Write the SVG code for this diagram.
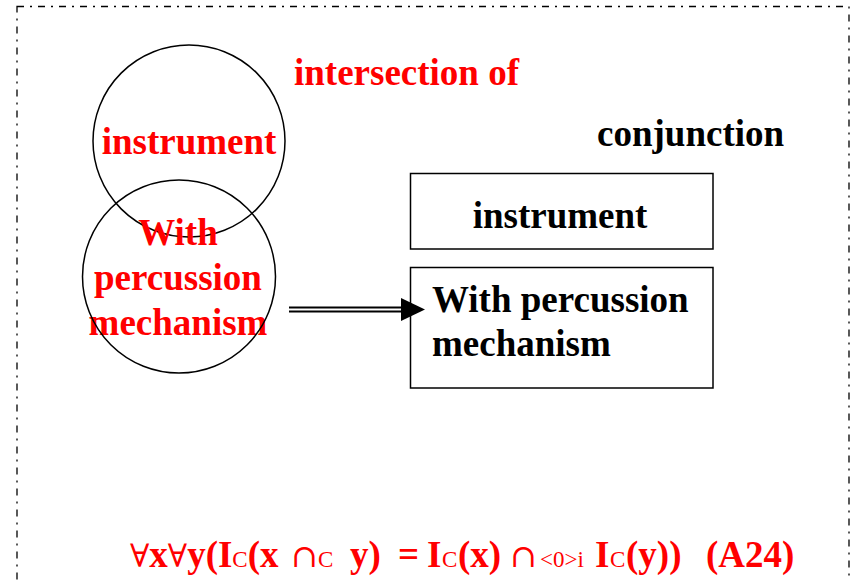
<svg xmlns="http://www.w3.org/2000/svg" width="853" height="580" viewBox="0 0 853 580">
<defs>
<style>
.t{font-family:"Liberation Serif","Times New Roman",serif;font-weight:bold;font-size:37px}
.red{fill:#ff0000}
.blk{fill:#000}
.sub{font-weight:normal;font-size:23px}
.sym{font-family:"DejaVu Serif","Liberation Serif",serif;font-weight:normal;font-size:32px}
.shape{fill:none;stroke:#000;stroke-width:1.5}
</style>
</defs>
<rect x="0" y="0" width="853" height="580" fill="#fff"/>
<rect id="frame" x="17" y="6.5" width="832" height="620" fill="none" stroke="#000" stroke-width="1.3" stroke-dasharray="7 6 2 6"/>

<g id="label-intersection"><text class="t red" x="294" y="85">intersection of</text></g>
<g id="label-conjunction"><text class="t blk" x="597" y="146">conjunction</text></g>

<g id="circle-instrument">
<text class="t red" x="189" y="154" text-anchor="middle">instrument</text>
<circle class="shape" cx="189" cy="141" r="96"/>
</g>
<g id="circle-percussion">
<text class="t red" x="178" y="245" text-anchor="middle">With</text>
<text class="t red" x="178" y="290" text-anchor="middle">percussion</text>
<text class="t red" x="178" y="335" text-anchor="middle">mechanism</text>
<circle class="shape" cx="179" cy="276.5" r="96.5"/>
</g>

<g id="box-instrument">
<rect class="shape" x="410.5" y="173.5" width="302.5" height="75.5"/>
<text class="t blk" x="560" y="228" text-anchor="middle">instrument</text>
</g>
<g id="box-percussion">
<rect class="shape" x="410.5" y="267.5" width="302.5" height="120.5"/>
<text class="t blk" x="432" y="312">With percussion</text>
<text class="t blk" x="432" y="356">mechanism</text>
</g>

<g id="connectors">
<line x1="289" y1="307.5" x2="403" y2="307.5" stroke="#000" stroke-width="1.8"/>
<line x1="289" y1="311.5" x2="403" y2="311.5" stroke="#000" stroke-width="1.8"/>
<path d="M401,298 L425,309.5 L401,321 Z" fill="#000"/>
</g>

<g id="formula">
<text class="t red" x="130" y="567"><tspan class="sym">∀</tspan>x<tspan class="sym">∀</tspan>y(I<tspan class="sub">C</tspan>(x<tspan x="291" class="sym">∩</tspan><tspan x="318" class="sub">C</tspan><tspan x="350">y)</tspan><tspan x="398">=</tspan><tspan x="427">I</tspan><tspan x="442" class="sub">C</tspan><tspan x="458">(x)</tspan><tspan x="510" class="sym">∩</tspan><tspan x="540" class="sub">&lt;0&gt;i</tspan><tspan x="595">I</tspan><tspan x="610" class="sub">C</tspan><tspan x="626">(y))</tspan><tspan x="706">(A24)</tspan></text>
</g>
</svg>
